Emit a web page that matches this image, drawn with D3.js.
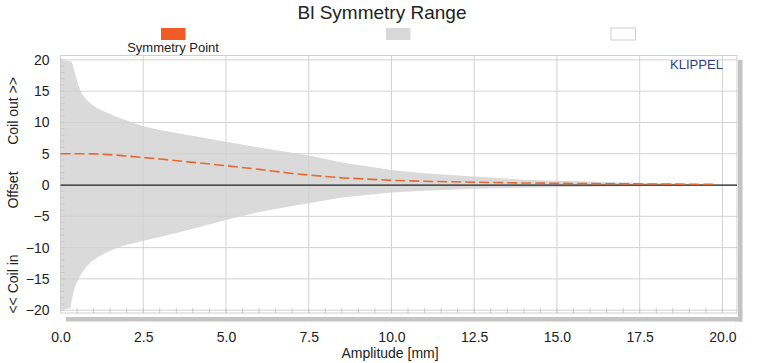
<!DOCTYPE html>
<html>
<head>
<meta charset="utf-8">
<script src="https://cdn.jsdelivr.net/npm/d3@7"></script>
<style>
  html, body { margin: 0; padding: 0; background: #fff; }
  svg { display: block; font-family: "Liberation Sans", Arial, sans-serif; }
</style>
</head>
<body>
<svg id="chart" width="765" height="363"></svg>
<script>
// ---- data ----
const amplitude = [0, 0.3, 0.34, 0.44, 0.54, 0.64, 0.79, 0.94, 1.14, 1.34, 1.65, 1.85, 2.5, 3.0, 3.86, 5.0, 6.0, 7.0, 7.5, 8.5, 10, 11, 12.5, 14, 15, 16, 17.5, 19, 19.8];
const rangeUpper = [19.9, 19.8, 19.7, 17.8, 16.0, 14.6, 13.6, 12.9, 12.2, 11.7, 11.0, 10.6, 9.4, 8.8, 8.0, 6.9, 6.0, 5.15, 4.7, 3.6, 2.4, 1.9, 1.35, 0.85, 0.7, 0.55, 0.35, 0.2, 0.05];
const rangeLower = [-19.9, -19.7, -18.3, -16.2, -15.0, -14.1, -13.0, -12.2, -11.5, -10.9, -10.2, -9.8, -8.9, -8.3, -7.2, -5.6, -4.3, -3.35, -2.9, -2.0, -1.2, -0.9, -0.6, -0.42, -0.35, -0.28, -0.2, -0.12, -0.05];
const symmetryPoint = [5.0, 5.0, 5.0, 5.0, 5.0, 5.0, 5.0, 4.98, 4.95, 4.9, 4.8, 4.7, 4.4, 4.15, 3.7, 3.1, 2.5, 1.85, 1.6, 1.15, 0.75, 0.6, 0.45, 0.33, 0.28, 0.22, 0.18, 0.12, 0.1];
const xTicks = [0, 2.5, 5, 7.5, 10, 12.5, 15, 17.5, 20];
const yTicks = [20, 15, 10, 5, 0, -5, -10, -15, -20];
const legendItems = ["Symmetry Point", "", ""];

const svg = d3.select("#chart");
const L = 60.5, R = 737, T = 55.5, B = 313;
const x = d3.scaleLinear().domain([0, 20.44]).range([L, R]);
const y = d3.scaleLinear().domain([20.7, -20.45]).range([T, B]);

// shadow
svg.append("rect").attr("x", 66).attr("y", B + 4).attr("width", R + 5 - 66).attr("height", 4.5).attr("fill", "#c4c4c4");
svg.append("rect").attr("x", R + 1).attr("y", 60).attr("width", 4.5).attr("height", B + 8.5 - 60).attr("fill", "#c4c4c4");

const data = amplitude.map((a, i) => ({a, hi: rangeUpper[i], lo: rangeLower[i], s: symmetryPoint[i]}));

// range area
svg.append("path").datum(data)
  .attr("fill", "#dadada")
  .attr("d", d3.area().x(d => x(d.a)).y0(d => y(d.lo)).y1(d => y(d.hi)));

// grid
const grid = svg.append("g");
grid.selectAll("line.v").data(xTicks).join("line")
  .attr("x1", d => x(d)).attr("x2", d => x(d)).attr("y1", T).attr("y2", B)
  .attr("stroke", "#d2d2d2").attr("stroke-width", 1);
grid.selectAll("line.h").data(yTicks).join("line")
  .attr("x1", L).attr("x2", R).attr("y1", d => y(d)).attr("y2", d => y(d))
  .attr("stroke", "#d2d2d2").attr("stroke-width", 1);

// frame
svg.append("rect").attr("x", L).attr("y", T).attr("width", R - L).attr("height", B - T)
  .attr("fill", "none").attr("stroke", "#cfcfcf").attr("stroke-width", 1);

// minor ticks
const minorX = d3.range(0.5, 20.44, 0.5);
svg.append("g").selectAll("line").data(minorX).join("line")
  .attr("x1", d => x(d)).attr("x2", d => x(d)).attr("y1", B - 5).attr("y2", B)
  .attr("stroke", "#c8c8c8");
const minorY = d3.range(-20, 21, 1);
svg.append("g").selectAll("line").data(minorY).join("line")
  .attr("x1", L).attr("x2", L + 4).attr("y1", d => y(d)).attr("y2", d => y(d))
  .attr("stroke", "#c8c8c8");

// zero line
svg.append("line").attr("x1", L).attr("x2", R).attr("y1", y(0)).attr("y2", y(0))
  .attr("stroke", "#222").attr("stroke-width", 1.3);

// symmetry point
svg.append("path").datum(data)
  .attr("fill", "none").attr("stroke", "#e8692e").attr("stroke-width", 1.6)
  .attr("stroke-dasharray", "10,4")
  .attr("d", d3.line().x(d => x(d.a)).y(d => y(d.s)));

// axes
const xAxis = svg.append("g").attr("transform", `translate(0,${B})`)
  .call(d3.axisBottom(x).tickValues(xTicks).tickFormat(d3.format(".1f")).tickSize(0).tickPadding(19));
xAxis.select(".domain").remove();
xAxis.selectAll("text").attr("font-size", 14).attr("fill", "#222").attr("font-family", "Liberation Sans, Arial, sans-serif");

const yAxis = svg.append("g").attr("transform", `translate(${L},0)`)
  .call(d3.axisLeft(y).tickValues(yTicks).tickFormat(d3.format("d")).tickSize(0).tickPadding(11));
yAxis.select(".domain").remove();
yAxis.selectAll("text").attr("font-size", 14).attr("fill", "#222").attr("font-family", "Liberation Sans, Arial, sans-serif");

// titles
svg.append("text").attr("x", 382).attr("y", 19).attr("text-anchor", "middle")
  .attr("font-size", 19).attr("fill", "#222").text("Bl Symmetry Range");
svg.append("text").attr("x", 390).attr("y", 358).attr("text-anchor", "middle")
  .attr("font-size", 14).attr("fill", "#222").text("Amplitude [mm]");

const yLab = [["Coil out >>", 111], ["Offset", 190], ["<< Coil in", 284]];
yLab.forEach(([t, cy]) => {
  svg.append("text").attr("transform", `translate(18,${cy}) rotate(-90)`)
    .attr("text-anchor", "middle").attr("font-size", 14).attr("fill", "#222").text(t);
});

// legend
const legX = [161, 386, 611];
const legFill = ["#f05a24", "#d8d8d8", "#ffffff"];
const legStroke = ["none", "none", "#cfcfcf"];
legendItems.forEach((t, i) => {
  svg.append("rect").attr("x", legX[i]).attr("y", 28).attr("width", 24.5).attr("height", 12)
    .attr("fill", legFill[i]).attr("stroke", legStroke[i]);
  if (t) svg.append("text").attr("x", legX[i] + 12).attr("y", 51.5).attr("text-anchor", "middle")
    .attr("font-size", 13).attr("fill", "#222").text(t);
});

// KLIPPEL mark
svg.append("text").attr("x", 670).attr("y", 68.5).attr("font-size", 12.5)
  .attr("textLength", 53).attr("lengthAdjust", "spacingAndGlyphs")
  .attr("fill", "#2e3c86").text("KLIPPEL");
</script>
</body>
</html>
